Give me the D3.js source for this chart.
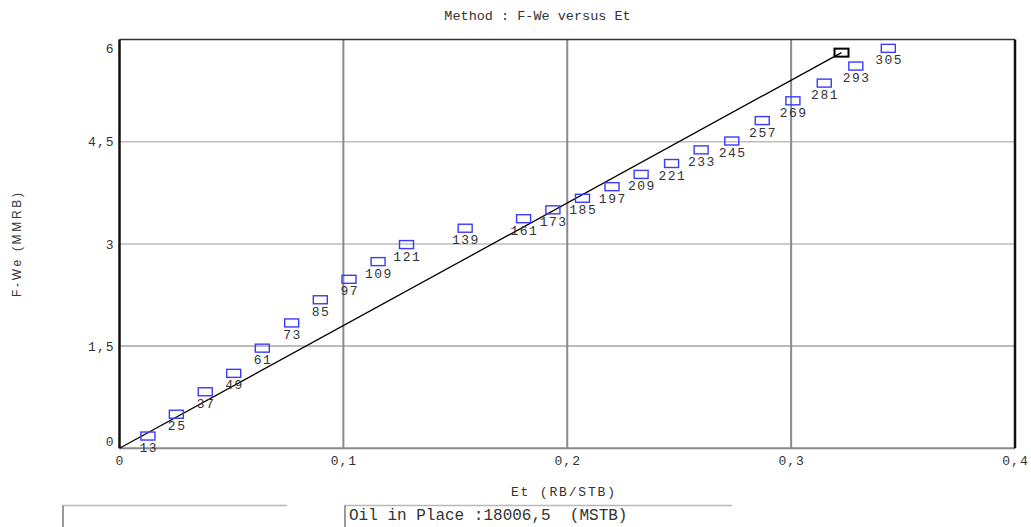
<!DOCTYPE html>
<html>
<head>
<meta charset="utf-8">
<script src="https://cdn.jsdelivr.net/npm/d3@7/dist/d3.min.js"></script>
<style>
  html, body { margin: 0; padding: 0; background: #fff; }
  svg { display: block; }
  text { font-family: "Liberation Mono", "DejaVu Sans Mono", monospace; fill: #333; }
</style>
</head>
<body>
<svg id="chart" width="1031" height="527"></svg>
<script>
// Material balance: F-We against Et, one point per time step
const steps   = [13, 25, 37, 49, 61, 73, 85, 97, 109, 121, 139, 161, 173, 185, 197, 209, 221, 233, 245, 257, 269, 281, 293, 305];
const etVals  = [0.0127, 0.0254, 0.0383, 0.0510, 0.0638, 0.0769, 0.0897, 0.1025, 0.1155, 0.1282, 0.1544, 0.1805,
                 0.1936, 0.2068, 0.2200, 0.2330, 0.2466, 0.2598, 0.2735, 0.2871, 0.3008, 0.3148, 0.3289, 0.3434];
const fweVals = [0.18, 0.50, 0.83, 1.10, 1.47, 1.84, 2.18, 2.48, 2.74, 2.99, 3.23, 3.37,
                 3.50, 3.67, 3.84, 4.02, 4.18, 4.38, 4.51, 4.81, 5.10, 5.36, 5.61, 5.87];
// Oil in place (MSTB); the fitted line is F-We = N * Et with N in MMSTB
const oilInPlace = 18006.5;
const fitEndEt = 0.3225;
const xTicks = [0, 0.1, 0.2, 0.3, 0.4];
const yTicks = [0, 1.5, 3, 4.5, 6];

const svg = d3.select("#chart");
const pLeft = 119.5, pRight = 1015, pTop = 39.5, pBottom = 448.3;
const x = d3.scaleLinear().domain([0, 0.4]).range([pLeft, pRight]);
const y = d3.scaleLinear().domain([0, 6]).range([pBottom, pTop]);
const fmt = v => String(v).replace(".", ",");

// grid
svg.append("g").selectAll("line").data(yTicks.slice(1, -1)).join("line")
  .attr("x1", pLeft).attr("x2", pRight)
  .attr("y1", d => y(d)).attr("y2", d => y(d))
  .attr("stroke", d => d === 1.5 ? "#a4a4a4" : "#bdbdbd").attr("stroke-width", 1.5);
svg.append("g").selectAll("line").data(xTicks.slice(1, -1)).join("line")
  .attr("x1", d => x(d)).attr("x2", d => x(d))
  .attr("y1", pTop).attr("y2", pBottom)
  .attr("stroke", "#8a8a8a").attr("stroke-width", 2);

// frame
svg.append("line").attr("x1", pLeft).attr("x2", pRight).attr("y1", pTop).attr("y2", pTop)
  .attr("stroke", "#333").attr("stroke-width", 1.5);
svg.append("line").attr("x1", pLeft).attr("x2", pRight).attr("y1", pBottom).attr("y2", pBottom)
  .attr("stroke", "#8a8a8a").attr("stroke-width", 2);
svg.append("line").attr("x1", pLeft).attr("x2", pLeft).attr("y1", pTop).attr("y2", pBottom)
  .attr("stroke", "#111").attr("stroke-width", 2.5);
svg.append("line").attr("x1", pRight).attr("x2", pRight).attr("y1", pTop).attr("y2", pBottom)
  .attr("stroke", "#111").attr("stroke-width", 2.5);

// axes
const xAxis = svg.append("g").attr("transform", `translate(0,${pBottom})`)
  .call(d3.axisBottom(x).tickValues(xTicks).tickSize(0).tickPadding(7).tickFormat(fmt));
const yAxis = svg.append("g").attr("transform", `translate(${pLeft - 5},0)`)
  .call(d3.axisLeft(y).tickValues(yTicks).tickSize(0).tickPadding(0).tickFormat(fmt));
[xAxis, yAxis].forEach(g => {
  g.select(".domain").remove();
  g.selectAll("text").style("font-family", "'Liberation Mono', monospace")
    .style("font-size", "13px").style("letter-spacing", "1px").attr("fill", "#333");
});
yAxis.selectAll(".tick text").attr("dy", d => d === 6 ? "1.0em" : d === 0 ? "-0.2em" : "0.32em");

// fitted line through origin
const slope = oilInPlace / 1000;
svg.append("line")
  .attr("x1", x(0)).attr("y1", y(0))
  .attr("x2", x(fitEndEt)).attr("y2", y(slope * fitEndEt))
  .attr("stroke", "#000").attr("stroke-width", 1.3);
svg.append("rect")
  .attr("x", x(fitEndEt) - 7).attr("y", y(slope * fitEndEt) - 4)
  .attr("width", 14).attr("height", 8)
  .attr("fill", "none").attr("stroke", "#000").attr("stroke-width", 2);

// data points
const pts = steps.map((s, i) => ({ s, et: etVals[i], fwe: fweVals[i] }));
svg.append("g").selectAll("rect").data(pts).join("rect")
  .attr("x", d => x(d.et) - 7).attr("y", d => y(d.fwe) - 4)
  .attr("width", 14).attr("height", 8)
  .attr("fill", "none").attr("stroke", "#3a3aff").attr("stroke-width", 1.4);
svg.append("g").selectAll("text").data(pts).join("text")
  .attr("x", d => x(d.et) + 0.8).attr("y", d => y(d.fwe) + 16)
  .attr("text-anchor", "middle")
  .style("font-size", "13px").style("letter-spacing", "1.5px")
  .text(d => d.s);

// titles
svg.append("text").attr("x", 537.5).attr("y", 20).attr("text-anchor", "middle")
  .style("font-size", "13.5px").text("Method : F-We versus Et");
svg.append("text").attr("x", 563).attr("y", 496).attr("text-anchor", "middle")
  .style("font-size", "13px").attr("textLength", 104).attr("lengthAdjust", "spacing")
  .text("Et (RB/STB)");
svg.append("text").attr("transform", "translate(21,245) rotate(-90)").attr("text-anchor", "middle")
  .style("font-family", "'Liberation Sans', sans-serif").style("font-size", "12px").attr("fill", "#555")
  .attr("textLength", 104).attr("lengthAdjust", "spacing")
  .text("F-We (MMRB)");

// result boxes below the chart
svg.append("path").attr("d", "M63,527V505.5H287").attr("fill", "none").attr("stroke", "#b8b8b8").attr("stroke-width", 1.5);
svg.append("line").attr("x1", 63).attr("x2", 63).attr("y1", 505.5).attr("y2", 527).attr("stroke", "#999").attr("stroke-width", 2);
svg.append("path").attr("d", "M345,527V505.5H732").attr("fill", "none").attr("stroke", "#b8b8b8").attr("stroke-width", 1.5);
svg.append("line").attr("x1", 345).attr("x2", 345).attr("y1", 505.5).attr("y2", 527).attr("stroke", "#999").attr("stroke-width", 2);
svg.append("text").attr("x", 349).attr("y", 520).style("font-size", "16px").attr("fill", "#222")
  .attr("xml:space", "preserve")
  .text(`Oil in Place :${fmt(oilInPlace)}  (MSTB)`);
</script>
</body>
</html>
